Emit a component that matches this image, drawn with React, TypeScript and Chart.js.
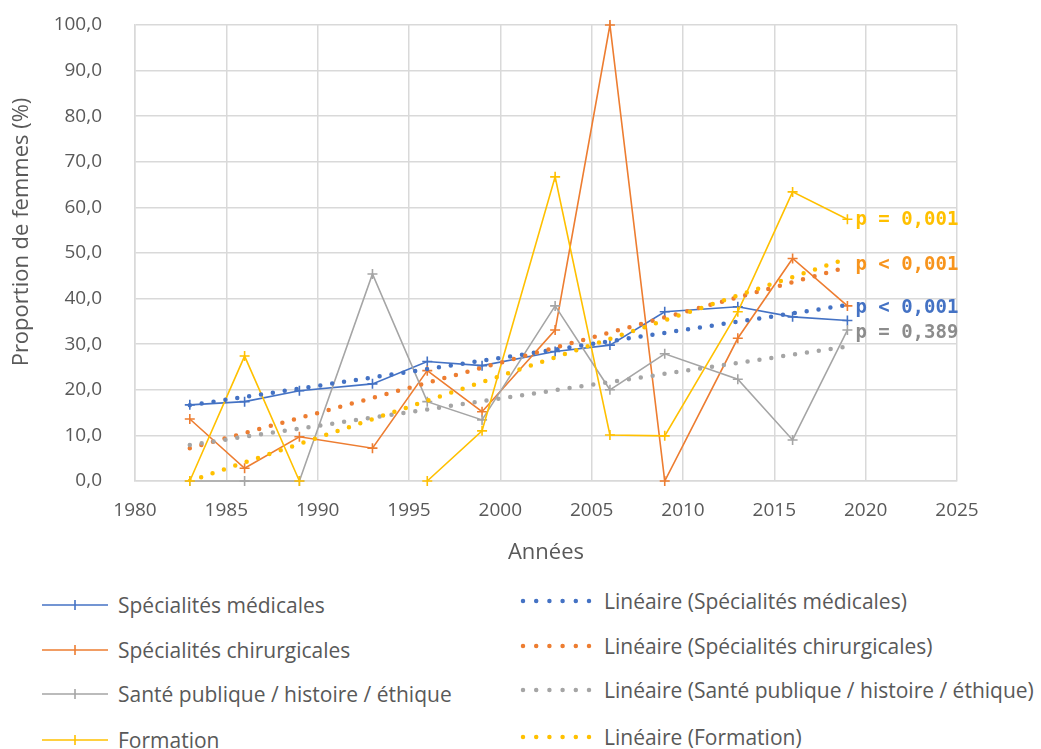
import React, { useEffect, useRef } from "react";
import { Chart, registerables } from "chart.js";

Chart.register(...registerables);

// ---- Data ----
const years = [1983, 1986, 1989, 1993, 1996, 1999, 2003, 2006, 2009, 2013, 2016, 2019];
const medicales = [16.7, 17.4, 19.8, 21.3, 26.2, 25.3, 28.4, 29.8, 37.1, 38.2, 36.0, 35.2];
const chirurgicales = [13.6, 2.8, 9.7, 7.2, 24.2, 15.2, 33.1, 100.0, 0.0, 31.3, 48.8, 38.4];
const santePublique = [0.0, 0.0, 0.0, 45.4, 17.4, 13.4, 38.4, 20.0, 27.9, 22.3, 9.0, 33.1];
const formation = [0.0, 27.4, 0.0, null, 0.0, 11.0, 66.7, 10.1, 9.9, 37.1, 63.4, 57.4];

// Linear trend lines (start / end values)
const trendYears = [1983, 2019];
const trendMedicales = [16.6, 38.6];
const trendChirurgicales = [7.2, 46.9];
const trendSantePublique = [7.9, 29.5];
const trendFormation = [0.0, 48.8];

const seriesNames = [
  "Spécialités médicales",
  "Spécialités chirurgicales",
  "Santé publique / histoire / éthique",
  "Formation",
];
const trendNames = seriesNames.map((n) => `Linéaire (${n})`);

// p-value annotations (text, and value on the y axis where each sits)
const pValueTexts = ["p < 0,001", "p < 0,001", "p = 0,389", "p = 0,001"];
const pValueAnchors = [37.9, 47.4, 32.5, 57.2];

const xTitle = "Années";
const yTitle = "Proportion de femmes (%)";

const xMin = 1980;
const xMax = 2025;
const xStep = 5;
const yMin = 0;
const yMax = 100;
const yStep = 10;

// ---- Styles ----
const COLORS = ["#4472C4", "#ED7D31", "#A5A5A5", "#FFC000"];
const LABEL_COLORS = ["#4472C4", "#F7941D", "#8C8C8C", "#FFC000"];
const TEXT = "#595959";
const GRID = "#D9D9D9";
const FONT = "'Open Sans', 'Noto Sans', sans-serif";

const seriesValues = [medicales, chirurgicales, santePublique, formation];
const trendValues = [trendMedicales, trendChirurgicales, trendSantePublique, trendFormation];

const pValuePlugin = {
  id: "pValues",
  afterDatasetsDraw(chart: any) {
    const { ctx, scales } = chart;
    const xs = scales.x;
    const ys = scales.y;
    ctx.save();
    ctx.font = "bold 19px 'DejaVu Sans Mono', monospace";
    ctx.textAlign = "left";
    ctx.textBaseline = "middle";
    const x0 = xs.getPixelForValue(years[years.length - 1]) + 8;
    pValueTexts.forEach((t, i) => {
      ctx.fillStyle = LABEL_COLORS[i];
      ctx.fillText(t, x0, ys.getPixelForValue(pValueAnchors[i]));
    });
    ctx.restore();
  },
};

// y-axis title, drawn slightly above the plot's centre as in the original
const yTitlePlugin = {
  id: "yTitle",
  afterDraw(chart: any) {
    const { ctx, chartArea } = chart;
    ctx.save();
    ctx.font = `22px ${FONT}`;
    ctx.fillStyle = TEXT;
    ctx.textAlign = "center";
    ctx.textBaseline = "middle";
    ctx.translate(22, (chartArea.top + chartArea.bottom) / 2 - 21);
    ctx.rotate(-Math.PI / 2);
    ctx.fillText(yTitle, 0, 0);
    ctx.restore();
  },
};

function ChartCanvas() {
  const ref = useRef<HTMLCanvasElement | null>(null);
  useEffect(() => {
    if (!ref.current) return;
    Chart.defaults.font.family = FONT;
    const datasets: any[] = [];
    trendValues.forEach((vals, i) => {
      datasets.push({
        label: trendNames[i],
        data: trendYears.map((x, k) => ({ x, y: vals[k] })),
        borderColor: COLORS[i],
        backgroundColor: COLORS[i],
        borderWidth: 4.5,
        borderDash: [0, 12],
        borderCapStyle: "round",
        pointRadius: 0,
        fill: false,
        tension: 0,
        order: 3 - i,
      });
    });
    seriesValues.forEach((vals, i) => {
      datasets.push({
        label: seriesNames[i],
        data: years.map((x, k) => ({ x, y: vals[k] })),
        borderColor: COLORS[i],
        backgroundColor: COLORS[i],
        borderWidth: 1.6,
        pointStyle: "cross",
        pointRadius: 5,
        pointBorderWidth: 1.6,
        pointBorderColor: COLORS[i],
        spanGaps: false,
        fill: false,
        tension: 0,
        clip: false,
        order: 7 - i,
      });
    });

    const chart = new Chart(ref.current, {
      type: "line",
      data: { datasets },
      plugins: [pValuePlugin, yTitlePlugin],
      options: {
        responsive: false,
        animation: false,
        layout: { padding: { top: 25, right: 84, bottom: 0, left: 0 } },
        plugins: {
          legend: { display: false },
          tooltip: { enabled: false },
        },
        scales: {
          x: {
            type: "linear",
            min: xMin,
            max: xMax,
            ticks: {
              stepSize: xStep,
              color: TEXT,
              font: { size: 19 },
              padding: 3,
              maxRotation: 0,
              autoSkip: false,
              callback: (v: any) => String(v),
            },
            grid: {
              color: GRID,
              lineWidth: 1.5,
              drawTicks: true,
              tickLength: 15,
              tickColor: "rgba(0,0,0,0)",
            },
            border: { color: GRID, width: 1.5 },
            title: {
              display: true,
              text: xTitle,
              color: TEXT,
              font: { size: 22 },
              padding: { top: 0, bottom: 9 },
            },
            afterFit: (s: any) => {
              s.height = 94;
            },
          },
          y: {
            type: "linear",
            min: yMin,
            max: yMax,
            ticks: {
              stepSize: yStep,
              color: TEXT,
              font: { size: 19 },
              padding: 3,
              callback: (v: any) => Number(v).toFixed(1).replace(".", ","),
            },
            grid: {
              color: GRID,
              lineWidth: 1.5,
              drawTicks: true,
              tickLength: 30,
              tickColor: "rgba(0,0,0,0)",
            },
            border: { color: GRID, width: 1.5 },
            afterFit: (s: any) => {
              s.width = 135;
            },
          },
        },
      },
    });
    return () => chart.destroy();
  }, []);
  return <canvas ref={ref} width={1041} height={575} style={{ display: "block" }} />;
}

function SolidSwatch({ color }: { color: string }) {
  return (
    <svg width={66} height={14} style={{ display: "block" }}>
      <line x1={0} y1={7} x2={66} y2={7} stroke={color} strokeWidth={1.6} />
      <line x1={33} y1={2} x2={33} y2={12} stroke={color} strokeWidth={1.6} />
    </svg>
  );
}

function DottedSwatch({ color }: { color: string }) {
  return (
    <svg width={72} height={14} style={{ display: "block" }}>
      <line
        x1={3}
        y1={7}
        x2={69}
        y2={7}
        stroke={color}
        strokeWidth={4.5}
        strokeLinecap="round"
        strokeDasharray="0 13.2"
      />
    </svg>
  );
}

const leftRows = [605, 650, 694, 740];
const rightRows = [601, 646, 690, 737];

export default function App() {
  return (
    <div
      style={{
        position: "absolute",
        left: 0,
        top: 0,
        width: 1041,
        height: 749,
        background: "#ffffff",
        overflow: "hidden",
        fontFamily: FONT,
      }}
    >
      <ChartCanvas />
      {seriesNames.map((n, i) => (
        <div
          key={n}
          style={{
            position: "absolute",
            left: 42,
            top: leftRows[i] - 15,
            height: 30,
            display: "flex",
            alignItems: "center",
            whiteSpace: "nowrap",
          }}
        >
          <SolidSwatch color={COLORS[i]} />
          <span style={{ marginLeft: 10, fontSize: 21, color: TEXT, lineHeight: "30px" }}>{n}</span>
        </div>
      ))}
      {trendNames.map((n, i) => (
        <div
          key={n}
          style={{
            position: "absolute",
            left: 520,
            top: rightRows[i] - 15,
            height: 30,
            display: "flex",
            alignItems: "center",
            whiteSpace: "nowrap",
          }}
        >
          <DottedSwatch color={COLORS[i]} />
          <span style={{ marginLeft: 12, fontSize: 21, color: TEXT, lineHeight: "30px" }}>{n}</span>
        </div>
      ))}
    </div>
  );
}
